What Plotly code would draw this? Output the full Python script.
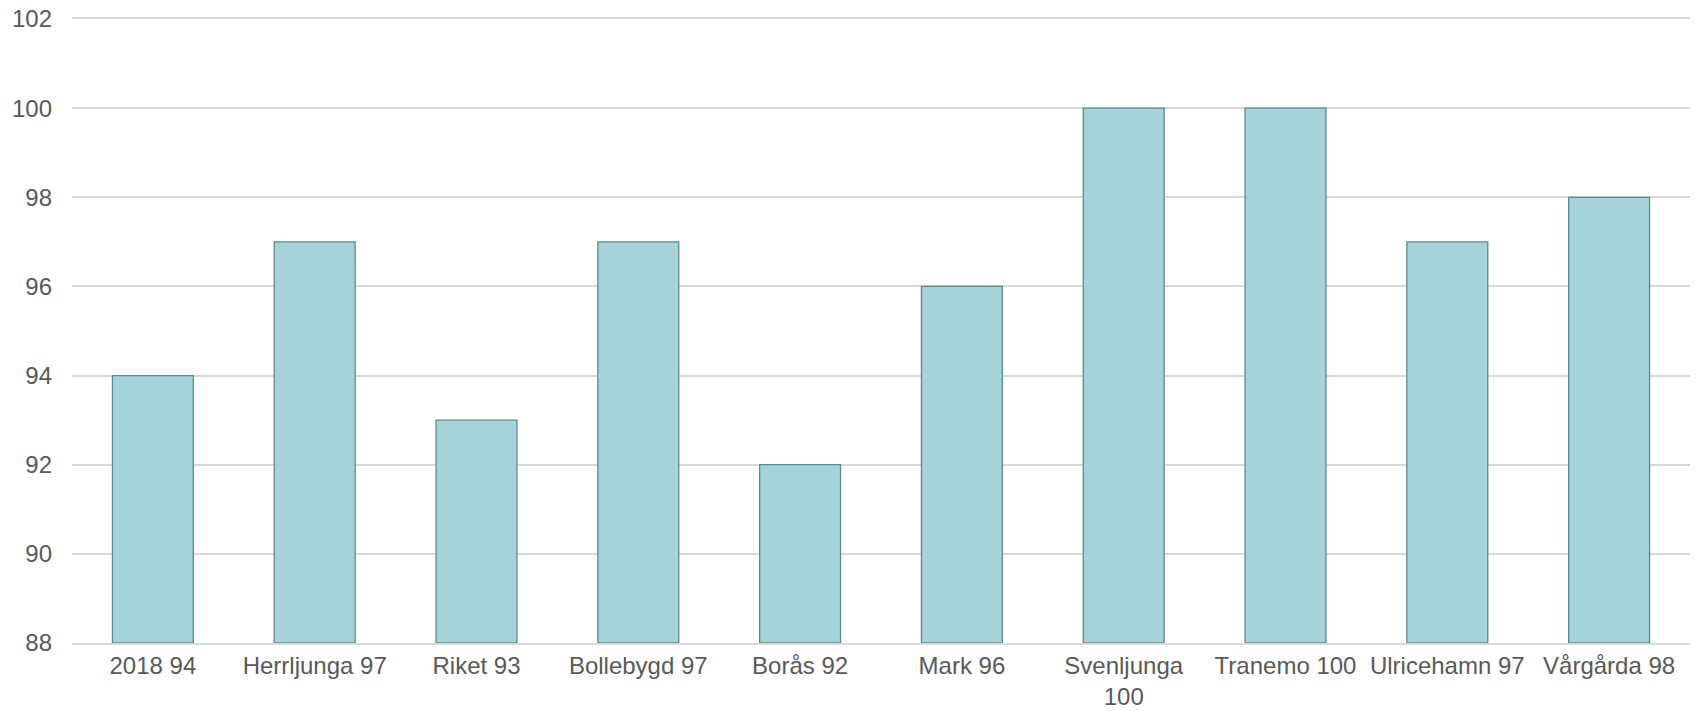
import plotly.graph_objects as go

categories = ["2018 94", "Herrljunga 97", "Riket 93", "Bollebygd 97", "Borås 92",
              "Mark 96", "Svenljunga<br>100", "Tranemo 100", "Ulricehamn 97", "Vårgårda 98"]
values = [94, 97, 93, 97, 92, 96, 100, 100, 97, 98]
y_min, y_max = 88, 102

fig = go.Figure()
fig.add_trace(go.Bar(
    x=categories, y=[v - y_min for v in values], base=y_min,
    marker=dict(color="#a6d3d7", line=dict(color="#5d8a8d", width=1.3)),
    hoverinfo="skip",
))

fig.update_layout(
    width=1696, height=711,
    margin=dict(l=72, r=6, t=19, b=68),
    paper_bgcolor="white", plot_bgcolor="white",
    bargap=0.5, showlegend=False,
    font=dict(family="Liberation Sans, Arial, sans-serif", size=24, color="#595959"),
)
fig.update_xaxes(showgrid=False, showline=True, mirror=True, linecolor="#d9d9d9", linewidth=1.5,
                 ticks="", automargin=False, tickfont=dict(size=24, color="#595959"))
fig.update_yaxes(range=[y_min, y_max], dtick=2, showgrid=True, gridcolor="#d9d9d9",
                 gridwidth=1.5, zeroline=False, showline=False, ticks="", automargin=False,
                 ticklabelstandoff=19, tickfont=dict(size=24, color="#595959"))
fig.write_html("out.html", config={"displayModeBar": False},
               post_script="document.body.style.margin='0px';document.body.style.overflow='hidden';")
